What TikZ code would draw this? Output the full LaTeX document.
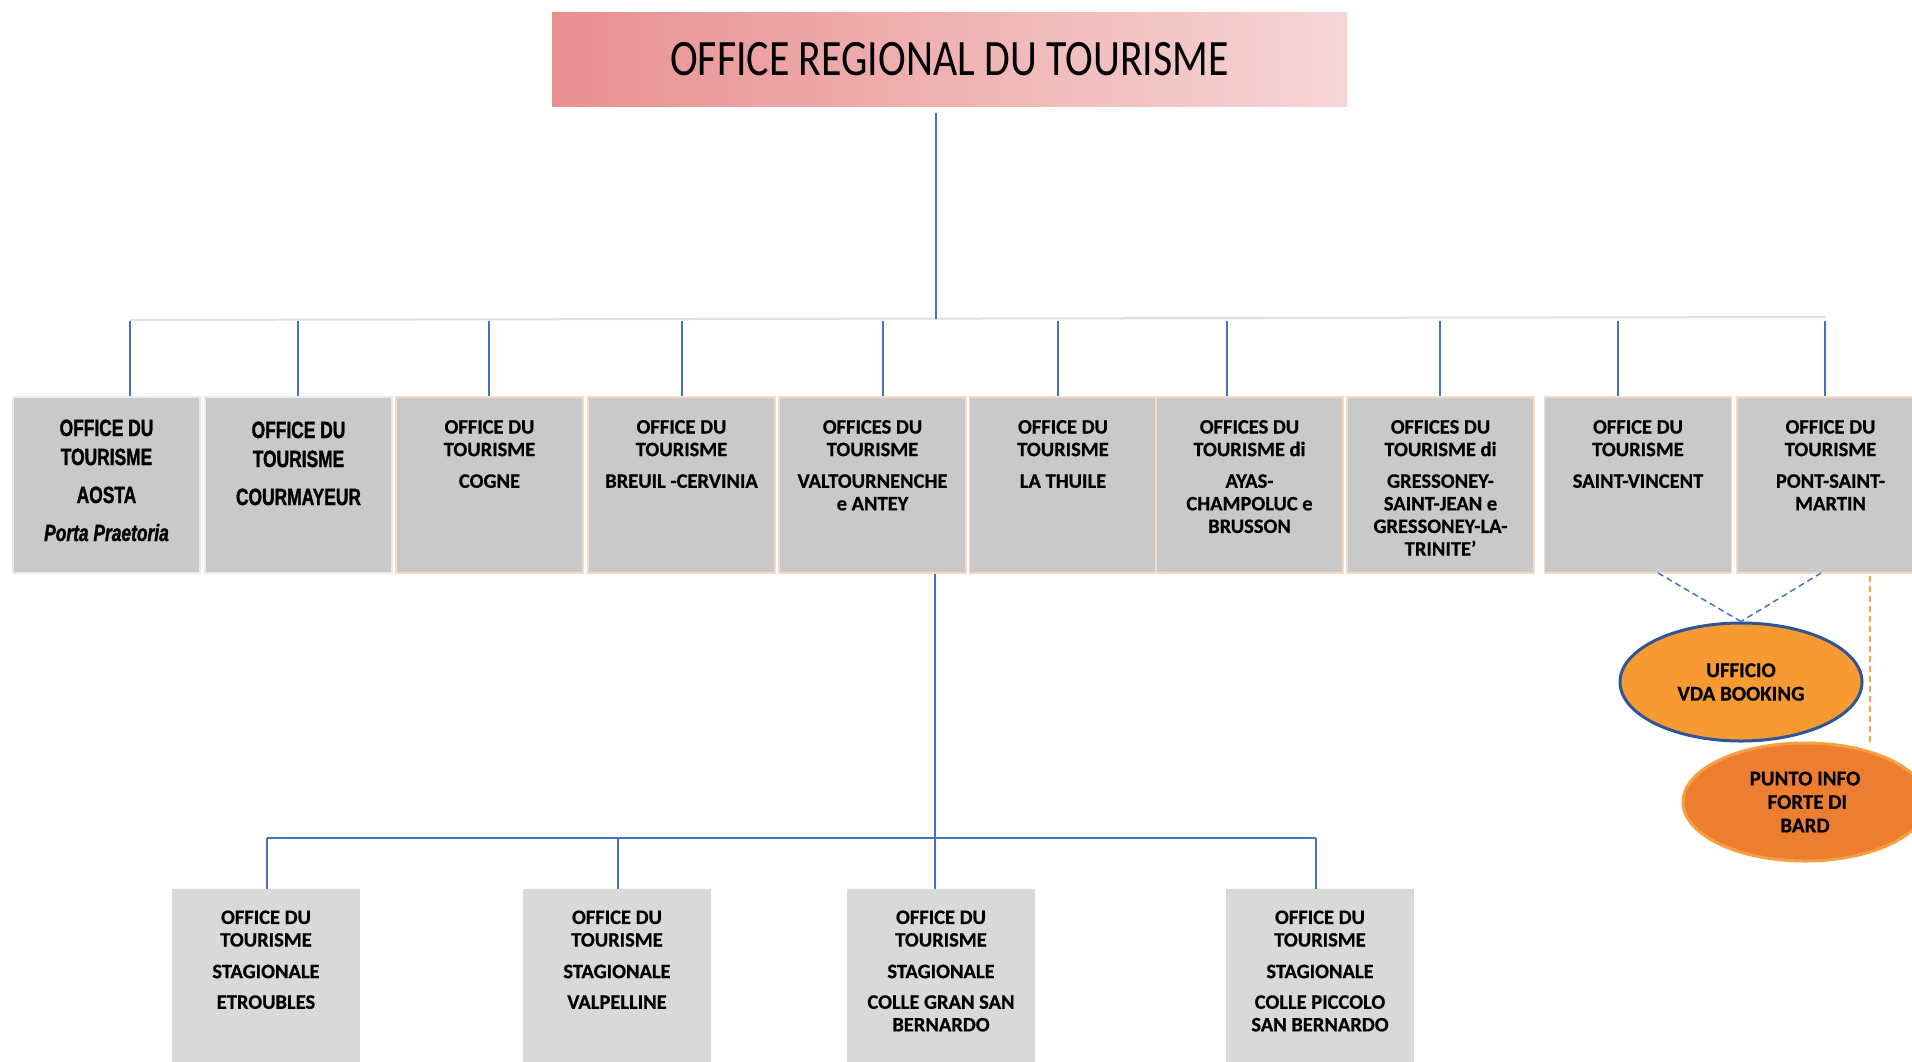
\documentclass[tikz,border=0pt]{standalone}
\usepackage{fontspec}
\setmainfont{Carlito}[BoldFeatures={FakeBold=0.6}]
\newfontfamily\titlefont[FakeStretch=0.82]{Carlito}
\newfontfamily\narrowfont[FakeStretch=0.74,FakeBold=1.3,ItalicFont={Liberation Sans Bold Italic}]{Liberation Sans Bold}
\usetikzlibrary{shapes.geometric}
\definecolor{lnblue}{HTML}{4472C4}
\definecolor{boxgray}{HTML}{C9C9C9}
\definecolor{boxgraylt}{HTML}{D9D9D9}
\definecolor{peach}{HTML}{F6D9C8}
\definecolor{titledark}{HTML}{E98F90}
\definecolor{titlelight}{HTML}{F6D6D6}
\definecolor{vdaorange}{HTML}{F79A33}
\definecolor{vdablue}{HTML}{2F5597}
\definecolor{puntoorange}{HTML}{ED7D31}
\definecolor{puntoedge}{HTML}{F7A040}
\begin{document}
\begin{tikzpicture}[x=1pt,y=-1pt,
  topbox/.style={rectangle, fill=boxgray, draw=peach, line width=1.2pt, minimum width=187pt, minimum height=176pt, inner sep=0pt},
  greybox/.style={topbox, draw=black!8},
  lowbox/.style={rectangle, fill=boxgraylt, draw=none, minimum width=188pt, minimum height=180pt, inner sep=0pt},
  boxtext/.style={anchor=north, inner sep=0pt, align=center, font=\fontsize{20.5}{22.6}\selectfont\bfseries},
  narrowtext/.style={anchor=north, inner sep=0pt, align=center, font=\narrowfont\fontsize{23.5}{29}\selectfont},
  conn/.style={draw=lnblue, line width=2pt},
  hline/.style={draw=black!12, line width=2pt},
  oval/.style={ellipse, minimum width=242pt, minimum height=118pt, inner sep=0pt, align=center, font=\fontsize{21}{23.5}\selectfont\bfseries},
  bluedash/.style={draw=lnblue, line width=1.5pt, dash pattern=on 6pt off 4pt},
  orangedash/.style={draw=puntoedge, line width=1.5pt, dash pattern=on 6pt off 4pt}
]
\useasboundingbox (0,0) rectangle (1912,1061);
\clip (0,0) rectangle (1912,1061);
\fill[white] (0,0) rectangle (1912,1061);

% title
\node[rectangle, left color=titledark, right color=titlelight, minimum width=795pt, minimum height=94pt, inner sep=0pt,
  font=\titlefont\fontsize{51}{55}\selectfont] (title) at (949.5,59) {OFFICE REGIONAL DU TOURISME};

% top row boxes
\node[greybox] (b1) at (106.5,485) {};
\node[greybox] (b2) at (298.5,485) {};
\node[topbox] (b3) at (489.5,485) {};
\node[topbox] (b4) at (681.5,485) {};
\node[topbox] (b5) at (872.5,485) {};
\node[topbox] (b6) at (1063,485) {};
\node[topbox] (b7) at (1249.5,485) {};
\node[topbox] (b8) at (1440.5,485) {};
\node[topbox] (b9) at (1638,485) {};
\node[topbox] (b10) at (1830.5,485) {};

\node[narrowtext] (t1) at ([yshift=-23pt]b1.north) {OFFICE DU\\TOURISME\\[9pt]AOSTA\\[9pt]{\itshape Porta Praetoria}};
\node[narrowtext] (t2) at ([yshift=-25pt]b2.north) {OFFICE DU\\TOURISME\\[9pt]COURMAYEUR};
\node[boxtext] (t3) at ([yshift=-23.5pt]b3.north) {OFFICE DU\\TOURISME\\[9pt]COGNE};
\node[boxtext] (t4) at ([yshift=-23.5pt]b4.north) {OFFICE DU\\TOURISME\\[9pt]BREUIL -CERVINIA};
\node[boxtext] (t5) at ([yshift=-23.5pt]b5.north) {OFFICES DU\\TOURISME\\[9pt]VALTOURNENCHE\\e ANTEY};
\node[boxtext] (t6) at ([yshift=-23.5pt]b6.north) {OFFICE DU\\TOURISME\\[9pt]LA THUILE};
\node[boxtext] (t7) at ([yshift=-23.5pt]b7.north) {OFFICES DU\\TOURISME di\\[9pt]AYAS-\\CHAMPOLUC e\\BRUSSON};
\node[boxtext] (t8) at ([yshift=-23.5pt]b8.north) {OFFICES DU\\TOURISME di\\[9pt]GRESSONEY-\\SAINT-JEAN e\\GRESSONEY-LA-\\TRINITE’};
\node[boxtext] (t9) at ([yshift=-23.5pt]b9.north) {OFFICE DU\\TOURISME\\[9pt]SAINT-VINCENT};
\node[boxtext] (t10) at ([yshift=-23.5pt]b10.north) {OFFICE DU\\TOURISME\\[9pt]PONT-SAINT-\\MARTIN};

% bottom row boxes
\node[lowbox] (c1) at (266,979) {};
\node[lowbox] (c2) at (617,979) {};
\node[lowbox] (c3) at (941,979) {};
\node[lowbox] (c4) at (1320,979) {};
\node[boxtext] (u1) at ([yshift=-21.5pt]c1.north) {OFFICE DU\\TOURISME\\[9pt]STAGIONALE\\[8pt]ETROUBLES};
\node[boxtext] (u2) at ([yshift=-21.5pt]c2.north) {OFFICE DU\\TOURISME\\[9pt]STAGIONALE\\[8pt]VALPELLINE};
\node[boxtext] (u3) at ([yshift=-21.5pt]c3.north) {OFFICE DU\\TOURISME\\[9pt]STAGIONALE\\[8pt]COLLE GRAN SAN\\BERNARDO};
\node[boxtext] (u4) at ([yshift=-21.5pt]c4.north) {OFFICE DU\\TOURISME\\[9pt]STAGIONALE\\[8pt]COLLE PICCOLO\\SAN BERNARDO};

% upper connectors
\coordinate (hub) at (936,319);
\coordinate (hl) at (130,320);
\coordinate (hr) at (1825,317);
\draw[hline] (hl) -- (hr);
\draw[conn, line width=1.5pt] ([yshift=-7pt]title.south -| hub) -- (hub);
\foreach \x/\b in {130/b1,298/b2,489/b3,682/b4,883/b5,1058/b6,1227/b7,1440/b8,1618/b9,1825/b10}{
  \coordinate (d\b) at (\x,321);
  \draw[conn] (d\b) -- (d\b |- \b.north);
}

% lower connectors
\coordinate (bus) at (935,838);
\coordinate (busL) at (267,838);
\coordinate (busM) at (618,838);
\coordinate (busR) at (1316,838);
\draw[conn] (busL) -- (busR);
\draw[conn] (b5.south -| bus) -- (bus |- c3.north);
\draw[conn] (busL) -- (busL |- c1.north);
\draw[conn] (busM) -- (busM |- c2.north);
\draw[conn] (busR) -- (busR |- c4.north);

% ellipses
\node[oval, fill=vdaorange, draw=vdablue, line width=3pt] (vda) at (1741,682) {UFFICIO\\VDA BOOKING};
\node[oval, fill=puntoorange, draw=puntoedge, line width=3pt, minimum width=244pt] (punto) at (1805,802) {PUNTO INFO\\\ FORTE DI\\BARD};

\coordinate (sv) at (1658,573);
\coordinate (psm) at (1821,573);
\coordinate (psmo) at (1870,576);
\draw[bluedash] (sv) -- (vda.north);
\draw[bluedash] (psm) -- (vda.north);
\draw[orangedash] (psmo) -- (psmo |- punto.north);
\end{tikzpicture}
\end{document}
